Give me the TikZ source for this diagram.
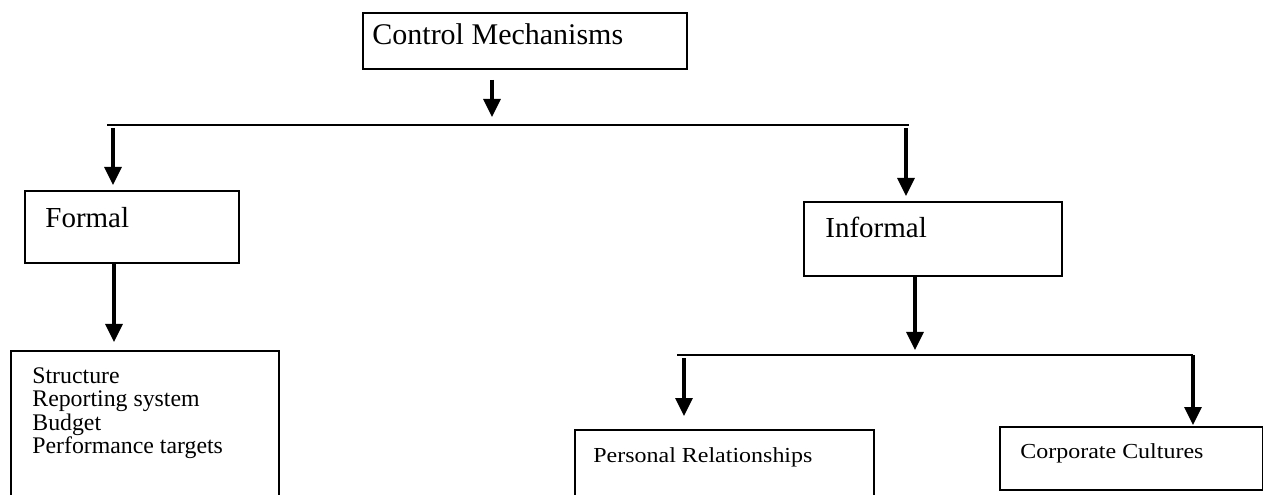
\documentclass[tikz,border=0pt]{standalone}
\usepackage{fontspec}
\setmainfont{Liberation Serif}
\newfontfamily\widefont[FakeStretch=1.12]{Liberation Serif}
\usetikzlibrary{arrows.meta,calc}
\tikzset{
  box/.style={draw, line width=1bp, anchor=north west, inner sep=0pt},
  arr/.style={line width=1.6bp, -{Triangle[length=9bp,width=8.5bp]}},
  bar/.style={line width=1bp},
  lbl/.style={anchor=base west, inner sep=0pt},
  bigtxt/.style={font=\fontsize{15bp}{18bp}\selectfont},
  midtxt/.style={font=\fontsize{14.5bp}{17bp}\selectfont},
  smalltxt/.style={font=\widefont\fontsize{10.7bp}{13bp}\selectfont},
}
\begin{document}
\begin{tikzpicture}[x=0.5bp,y=-0.5bp]
\useasboundingbox (0,0) rectangle (1263,495);
\clip (0,0) rectangle (1263,495);

% boxes
\node[box, minimum width=162bp, minimum height=28bp] (cm) at (362,12) {};
\node[box, minimum width=107bp, minimum height=36bp] (formal) at (24,190) {};
\node[box, minimum width=129bp, minimum height=37bp] (informal) at (803,201) {};
\node[box, minimum width=134bp, minimum height=80bp] (list) at (10,350) {};
\node[box, minimum width=149.5bp, minimum height=40bp] (personal) at (574,429) {};
\node[box, minimum width=131.5bp, minimum height=31.5bp] (corporate) at (999,426) {};

% labels
\node[lbl, bigtxt] (cmt) at (372,45) {Control Mechanisms};
\node[lbl, midtxt] (formalt) at (45,228) {Formal};
\node[lbl, midtxt] (informalt) at (825,238) {Informal};
\node[anchor=north west, inner sep=0pt, align=left,
      font=\fontsize{11.9bp}{11.8bp}\selectfont] (items) at (32,367)
      {Structure\\Reporting system\\Budget\\Performance targets};
\node[lbl, smalltxt] (personalt) at (593,462) {Personal Relationships};
\node[lbl, smalltxt] (corporatet) at (1020,458) {Corporate Cultures};

% junction points
\coordinate (b1l) at (107,125);
\coordinate (b1r) at (909,125);
\coordinate (j1) at (492,125);
\coordinate (j2) at (113,125);
\coordinate (j3) at (906,125);
\coordinate (j4) at (915,355);
\coordinate (b2l) at (677,355);
\coordinate (b2r) at (1193,355);
\coordinate (j5) at (684,355);

% branch bars
\draw[bar] (b1l) -- (b1r);
\draw[bar] (b2l) -- (b2r);

% arrows
\draw[arr, shorten <=5bp, shorten >=4bp] (cm.south -| j1) -- (j1);
\draw[arr, shorten <=1.5bp, shorten >=2.5bp] (j2) -- (formal.north -| j2);
\draw[arr, shorten >=4bp] ($(formal.south -| j2)+(1,0)$) -- ($(list.north -| j2)+(1,0)$);
\draw[arr, shorten <=1.5bp, shorten >=2.5bp] (j3) -- (informal.north -| j3);
\draw[arr, shorten >=2.5bp] (informal.south -| j4) -- (j4);
\draw[arr, shorten <=1.5bp, shorten >=6.5bp] (j5) -- (personal.north -| j5);
\draw[arr, shorten >=0.5bp] (b2r) -- (corporate.north -| b2r);
\end{tikzpicture}
\end{document}
